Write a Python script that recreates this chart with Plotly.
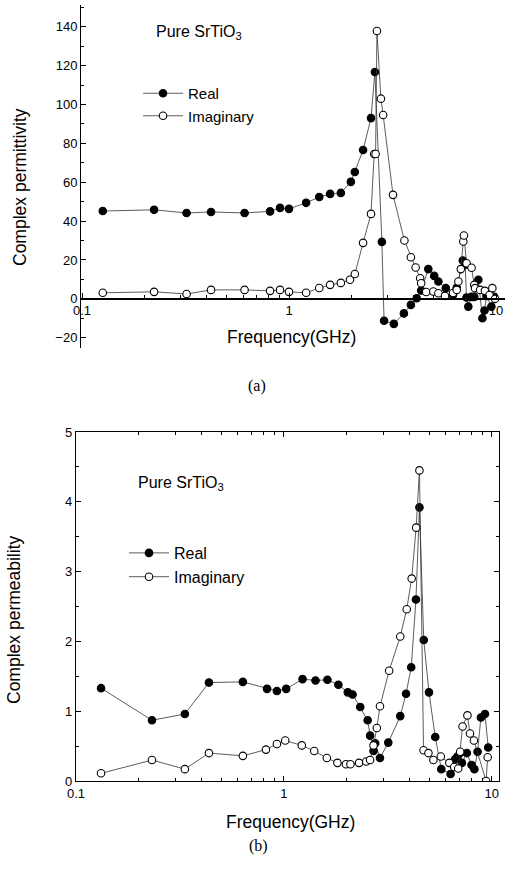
import plotly.graph_objects as go

# ---------------- (a) Complex permittivity ----------------
perm_real_f = [0.126, 0.223, 0.32, 0.42, 0.61, 0.81, 0.905, 1.0, 1.21, 1.40, 1.58, 1.78,
               1.99, 2.08, 2.28, 2.49, 2.60, 2.81, 2.88, 3.21, 3.59, 3.88, 4.14, 4.35,
               4.71, 5.03, 5.27, 5.72, 6.2, 6.46, 6.91, 7.1, 7.2, 7.35, 7.6, 7.85, 8.22,
               8.6, 8.8, 9.0, 9.5, 9.8]
perm_real_v = [45.2, 45.8, 44.2, 44.7, 44.2, 45.0, 46.8, 46.3, 49.4, 52.4, 54.0, 54.5,
               60.2, 65.3, 76.6, 93.0, 116.7, 29.3, -11.3, -12.9, -7.5, -3.1, 0.3, 4.3,
               15.3, 11.8, 8.9, 5.5, 2.0, 5.7, 19.7, 17.5, 0.7, -4.0, 1.0, 1.0, 9.8,
               -10.0, -6.0, 1.5, -4.0, 1.0]

perm_imag_f = [0.126, 0.223, 0.32, 0.42, 0.61, 0.81, 0.905, 1.0, 1.21, 1.40, 1.58, 1.78,
               1.97, 2.08, 2.28, 2.49, 2.58, 2.62, 2.66, 2.78, 2.85, 3.18, 3.61, 3.88,
               4.09, 4.30, 4.35, 4.6, 4.98, 5.27, 5.67, 6.2, 6.46, 6.58, 6.76, 6.95,
               7.0, 7.21, 7.62, 7.85, 7.92, 8.38, 8.84, 9.3, 9.6, 9.9]
perm_imag_v = [3.1, 3.6, 2.5, 4.6, 4.6, 4.1, 4.6, 3.6, 3.1, 5.6, 7.2, 8.2,
               9.8, 12.8, 28.8, 43.7, 74.5, 74.5, 137.8, 103.0, 94.6, 53.5, 30.0, 21.4,
               16.1, 10.6, 8.0, 3.5, 3.8, 2.9, 1.5, 3.0, 4.6, 8.9, 15.3, 29.5,
               32.6, 18.3, 16.0, 7.2, 5.5, 4.6, 4.1, 2.0, 5.5, 0.0]

# ---------------- (b) Complex permeability ----------------
perm_b_real_f = [0.132, 0.232, 0.334, 0.436, 0.635, 0.83, 0.926, 1.026, 1.23, 1.42, 1.62,
                 1.83, 2.03, 2.14, 2.33, 2.53, 2.60, 2.70, 2.75, 2.90, 3.18, 3.63, 3.87,
                 4.10, 4.32, 4.49, 4.71, 4.99, 5.35, 5.72, 6.34, 6.66, 6.84, 7.05, 7.19,
                 7.59, 8.0, 8.25, 8.55, 8.87, 9.28, 9.62]
perm_b_real_v = [1.33, 0.87, 0.96, 1.41, 1.42, 1.32, 1.29, 1.32, 1.46, 1.44, 1.45,
                 1.38, 1.27, 1.24, 1.06, 0.87, 0.65, 0.43, 0.54, 0.33, 0.55, 0.93, 1.25,
                 1.63, 2.60, 3.92, 2.02, 1.27, 0.63, 0.17, 0.10, 0.31, 0.35, 0.40, 0.26,
                 0.40, 0.23, 0.17, 0.42, 0.91, 0.96, 0.48]

perm_b_imag_f = [0.132, 0.232, 0.334, 0.436, 0.635, 0.82, 0.926, 1.015, 1.22, 1.40, 1.61,
                 1.81, 1.99, 2.09, 2.30, 2.49, 2.60, 2.70, 2.80, 2.90, 3.21, 3.63, 3.90,
                 4.12, 4.33, 4.49, 4.70, 4.96, 5.24, 5.69, 6.25, 6.6, 6.9, 7.05, 7.24,
                 7.64, 7.86, 8.21, 9.4, 9.56]
perm_b_imag_v = [0.11, 0.30, 0.17, 0.40, 0.36, 0.45, 0.53, 0.58, 0.51, 0.43, 0.33,
                 0.26, 0.24, 0.24, 0.26, 0.28, 0.30, 0.51, 0.76, 1.07, 1.58, 2.07, 2.46,
                 2.90, 3.63, 4.45, 0.44, 0.40, 0.30, 0.35, 0.26, 0.20, 0.18, 0.42, 0.78,
                 0.94, 0.68, 0.58, 0.0, 0.34]

x_tick_vals = [0.1, 1, 10]
x_tick_text = ["0.1", "1", "10"]
x_minor_vals = [0.2, 0.3, 0.4, 0.5, 0.6, 0.7, 0.8, 0.9, 2, 3, 4, 5, 6, 7, 8, 9]
ya_ticks = [-20, 0, 20, 40, 60, 80, 100, 120, 140]
yb_ticks = [0, 1, 2, 3, 4, 5]

FONT = "Arial, 'Liberation Sans', sans-serif"
SERIF = "'Times New Roman', 'Liberation Serif', serif"
W, H = 505, 869
LINE_C = "#333333"

fig = go.Figure()

def add_series(xs, ys, name, filled, xa, ya, legend):
    fig.add_trace(go.Scatter(
        x=xs, y=ys, name=name, mode="lines+markers",
        xaxis=xa, yaxis=ya, legend=legend,
        line=dict(color=LINE_C, width=0.8),
        marker=dict(symbol="circle", size=7.5,
                    color="black" if filled else "white",
                    line=dict(color="black", width=1.1)),
        cliponaxis=True,
    ))

add_series(perm_real_f, perm_real_v, "Real", True, "x", "y", "legend")
add_series(perm_imag_f, perm_imag_v, "Imaginary", False, "x", "y", "legend")
add_series(perm_b_real_f, perm_b_real_v, "Real", True, "x2", "y2", "legend2")
add_series(perm_b_imag_f, perm_b_imag_v, "Imaginary", False, "x2", "y2", "legend2")

tickfont = dict(family=FONT, size=13, color="black")
titlefont = dict(family=FONT, size=17.5, color="black")

def px_x(p):
    return p / W

def px_y(p):
    return 1 - p / H

common = dict(automargin=False, showgrid=False, zeroline=False,
              tickcolor="black", tickwidth=1, ticklen=5, ticks="inside",
              tickfont=tickfont, linecolor="black", showline=True)

fig.update_layout(
    width=W, height=H, autosize=False,
    margin=dict(l=0, r=0, t=0, b=0, autoexpand=False),
    paper_bgcolor="white", plot_bgcolor="white",
    font=dict(family=FONT, color="black"),
    # top panel
    xaxis=dict(
        type="log", domain=[px_x(80), 1.0], range=[-1.0097, 1.0435],
        anchor="free", position=px_y(299), linewidth=1.6,
        tickvals=x_tick_vals, ticktext=x_tick_text,
        minor=dict(tickvals=x_minor_vals, ticks="inside", ticklen=3, tickcolor="black"),
        **common,
    ),
    yaxis=dict(
        domain=[px_y(348), px_y(5)], range=[-25.3, 151.2],
        anchor="free", position=px_x(80), linewidth=1,
        tickvals=ya_ticks,
        minor=dict(dtick=10, ticks="inside", ticklen=3, tickcolor="black"),
        **common,
    ),
    # bottom panel
    xaxis2=dict(
        type="log", domain=[px_x(76), px_x(499)], range=[-1.0, 1.035],
        anchor="y2", linewidth=1.3, mirror="ticks",
        tickvals=x_tick_vals, ticktext=x_tick_text,
        minor=dict(tickvals=x_minor_vals, ticks="inside", ticklen=3, tickcolor="black"),
        **common,
    ),
    yaxis2=dict(
        domain=[px_y(781), px_y(432)], range=[0, 5],
        anchor="x2", linewidth=1.3, mirror="ticks",
        tickvals=yb_ticks,
        minor=dict(dtick=0.5, ticks="inside", ticklen=3, tickcolor="black"),
        **common,
    ),
    legend=dict(
        x=px_x(138), y=px_y(77), xanchor="left", yanchor="top",
        bgcolor="rgba(0,0,0,0)", font=dict(family=FONT, size=15, color="black"),
        itemwidth=40, tracegroupgap=0,
    ),
    legend2=dict(
        x=px_x(124), y=px_y(536), xanchor="left", yanchor="top",
        bgcolor="rgba(0,0,0,0)", font=dict(family=FONT, size=16, color="black"),
        itemwidth=40, tracegroupgap=0,
    ),
    annotations=[
        dict(text="Pure SrTiO<sub>3</sub>", x=px_x(199), y=px_y(32), xref="paper", yref="paper",
             showarrow=False, font=dict(family=FONT, size=16, color="black"),
             xanchor="center", yanchor="middle"),
        dict(text="Pure SrTiO<sub>3</sub>", x=px_x(181), y=px_y(483), xref="paper", yref="paper",
             showarrow=False, font=dict(family=FONT, size=16, color="black"),
             xanchor="center", yanchor="middle"),
        dict(text="Complex permittivity", x=px_x(20), y=px_y(187), xref="paper", yref="paper",
             showarrow=False, font=titlefont, textangle=-90,
             xanchor="center", yanchor="middle"),
        dict(text="Complex permeability", x=px_x(14), y=px_y(620), xref="paper", yref="paper",
             showarrow=False, font=titlefont, textangle=-90,
             xanchor="center", yanchor="middle"),
        dict(text="Frequency(GHz)", x=px_x(291), y=px_y(337), xref="paper", yref="paper",
             showarrow=False, font=titlefont, xanchor="center", yanchor="middle"),
        dict(text="Frequency(GHz)", x=px_x(290), y=px_y(822), xref="paper", yref="paper",
             showarrow=False, font=titlefont, xanchor="center", yanchor="middle"),
        dict(text="(a)", x=px_x(257), y=px_y(386), xref="paper", yref="paper",
             showarrow=False, font=dict(family=SERIF, size=16, color="black"),
             xanchor="center", yanchor="middle"),
        dict(text="(b)", x=px_x(258), y=px_y(846), xref="paper", yref="paper",
             showarrow=False, font=dict(family=SERIF, size=16, color="black"),
             xanchor="center", yanchor="middle"),
    ],
)

fig.write_html(
    "out.html",
    config={"displayModeBar": False},
    post_script="document.body.style.margin='0px';document.body.style.overflow='hidden';",
)
